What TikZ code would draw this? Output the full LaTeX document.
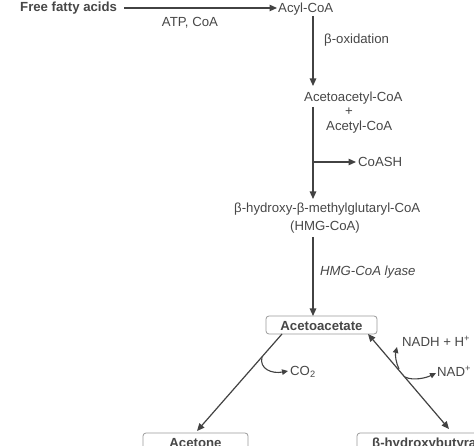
\documentclass[tikz,border=0pt]{standalone}
\usepackage{fontspec}
\setmainfont{Liberation Sans}
\usetikzlibrary{arrows.meta}
\definecolor{txt}{HTML}{474747}
\definecolor{ln}{HTML}{424242}
\definecolor{bx}{HTML}{9A9A9A}
\tikzset{
  lbl/.style={inner sep=0pt, anchor=base west, text=txt, font=\fontsize{13.2}{15}\selectfont},
  blbl/.style={lbl, font=\fontsize{13.2}{15}\selectfont\bfseries},
  arr/.style={draw=ln, line width=1.2pt, -{Triangle[length=7.5pt,width=6.5pt]}},
  darr/.style={draw=ln, line width=1.2pt, {Triangle[length=7.5pt,width=6.5pt]}-{Triangle[length=7.5pt,width=6.5pt]}},
  curl/.style={draw=ln, line width=1.1pt, -{Triangle[length=6pt,width=5.5pt]}},
  cbox/.style={draw=bx, line width=0.8pt, rounded corners=3pt, fill=white}
}
\begin{document}
\begin{tikzpicture}[x=1pt,y=-1pt]
\useasboundingbox (0,0) rectangle (474,446);
\clip (0,0) rectangle (474,446);
% texts
\node[blbl] (ffa) at (20,12) {Free fatty acids};
\node[lbl] (acyl) at (278,12.5) {Acyl-CoA};
\node[lbl, anchor=base] (atp) at (190,27) {ATP, CoA};
\node[lbl] (box) at (324,44) {β-oxidation};
\node[lbl] (aacoa) at (304,102) {Acetoacetyl-CoA};
\node[lbl, anchor=base] (plus) at (349,116) {+};
\node[lbl] (acoa) at (326,131) {Acetyl-CoA};
\node[lbl] (coash) at (358,167) {CoASH};
\node[lbl] (hmgl) at (234,213) {β-hydroxy-β-methylglutaryl-CoA};
\node[lbl, anchor=base] (hmg) at (325,231) {(HMG-CoA)};
\node[lbl, font=\fontsize{13.2}{15}\selectfont\itshape] (lyase) at (320,276) {HMG-CoA lyase};
\node[lbl] (nadh) at (402,346) {NADH + H\textsuperscript{+}};
\node[lbl] (nad) at (437,376) {NAD\textsuperscript{+}};
\node[lbl] (co2) at (290,375) {CO\textsubscript{2}};
% boxes
\draw[cbox] (266,316) rectangle (377,334);
\node[blbl, anchor=base] (aa) at (321.5,330.5) {Acetoacetate};
\draw[cbox] (143,433) rectangle (248,452);
\node[blbl, anchor=base] (acetone) at (195.5,447) {Acetone};
\draw[cbox] (357,433) rectangle (520,452);
\node[blbl] (bhb) at (372,447) {β-hydroxybutyrate};
% coordinates
\coordinate (a0) at (124,8);
\coordinate (a1) at (277,8);
\coordinate (v1a) at (313,16);
\coordinate (v1b) at (313,86);
\coordinate (v2a) at (313,107);
\coordinate (v2b) at (313,199);
\coordinate (br) at (313,162);
\coordinate (bre) at (356,162);
\coordinate (v3a) at (313,237);
\coordinate (v3b) at (313,316);
\coordinate (l0) at (282,334);
\coordinate (l1) at (197,431);
\coordinate (r0) at (368,334);
\coordinate (r1) at (449,429);
\coordinate (c0) at (262,357);
\coordinate (c1) at (288,371);
\coordinate (n0) at (399,369);
\coordinate (n1) at (397,347);
\coordinate (m0) at (405,377);
\coordinate (m1) at (436,373);
% connectors
\draw[arr] (a0) -- (a1);
\draw[arr] (v1a) -- (v1b);
\draw[arr] (v2a) -- (v2b);
\draw[arr] (br) -- (bre);
\draw[arr] (v3a) -- (v3b);
\draw[arr] (l0) -- (l1);
\draw[darr] (r0) -- (r1);
\draw[curl] (c0) .. controls (259,369) and (272,374) .. (c1);
\draw[curl] (n0) .. controls (396,363) and (395,355) .. (n1);
\draw[curl] (m0) .. controls (413,381) and (426,378) .. (m1);
\end{tikzpicture}
\end{document}
